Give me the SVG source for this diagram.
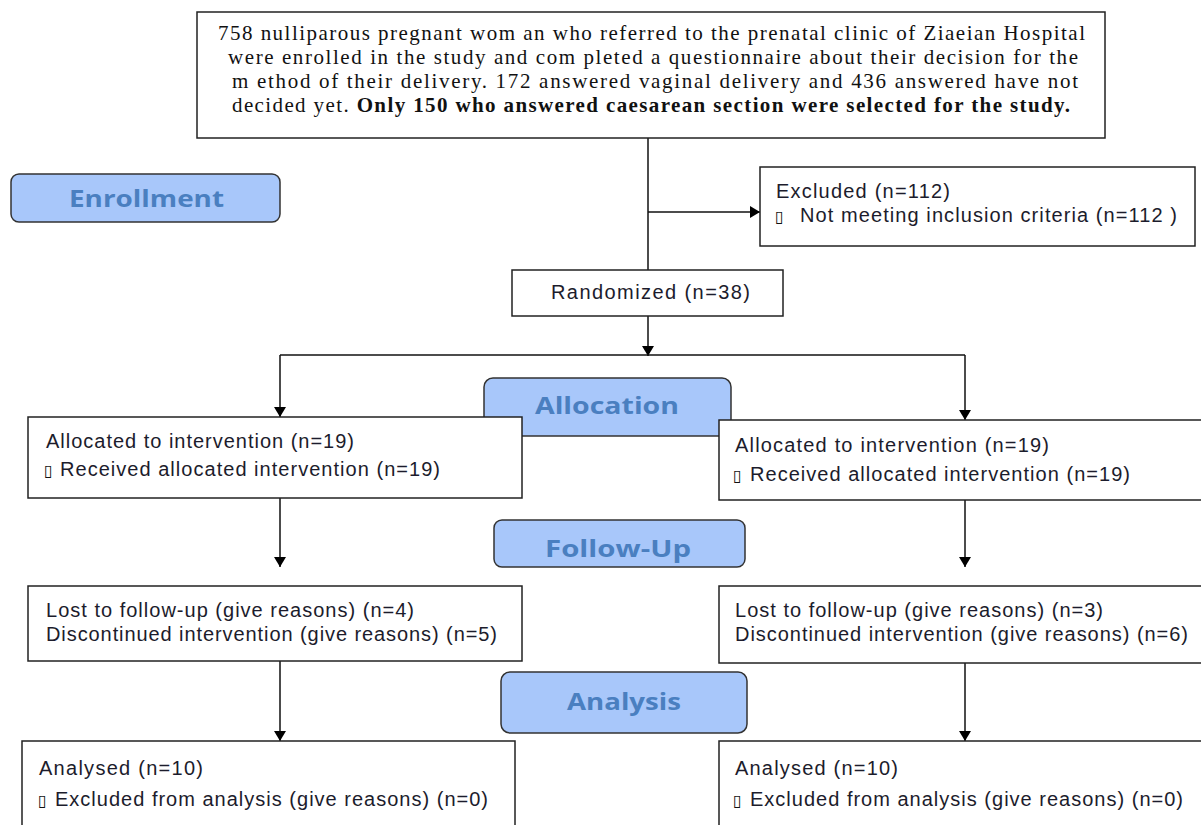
<svg xmlns="http://www.w3.org/2000/svg" width="1201" height="825" viewBox="0 0 1201 825">
<style>
.box{fill:#fff;stroke:#222;stroke-width:1.5}
.phase{fill:#a8c7fa;stroke:#333;stroke-width:1.5}
.ph{font-family:"Open Sans","DejaVu Sans",sans-serif;font-weight:bold;font-size:23px;fill:#4a7fc0}
.t{font-family:"Liberation Sans",Arial,sans-serif;font-size:20px;fill:#1c1c2c}
.s{font-family:"Liberation Serif","Times New Roman",serif;font-size:21px;fill:#111}
.b{font-family:"DejaVu Sans",sans-serif;font-size:16px;fill:#111}
.c{stroke:#111;stroke-width:1.5;fill:none}
</style>
<defs>
<marker id="ar" markerWidth="10" markerHeight="12" refX="10" refY="6" orient="auto" markerUnits="userSpaceOnUse">
<path d="M0,0 L10,6 L0,12 z" fill="#000"/>
</marker>
</defs>
<g id="connectors">
<path class="c" d="M648,138 V270"/>
<path class="c" d="M648,212 H760" marker-end="url(#ar)"/>
<path class="c" d="M648,316 V356" marker-end="url(#ar)"/>
<path class="c" d="M280,355 H965"/>
<path class="c" d="M280,355 V417" marker-end="url(#ar)"/>
<path class="c" d="M965,355 V420" marker-end="url(#ar)"/>
<path class="c" d="M280,498 V567" marker-end="url(#ar)"/>
<path class="c" d="M965,500 V567" marker-end="url(#ar)"/>
<path class="c" d="M280,661 V741" marker-end="url(#ar)"/>
<path class="c" d="M965,663 V741" marker-end="url(#ar)"/>
</g>
<g id="top">
<rect class="box" x="197" y="12" width="908" height="126"/>
<text class="s" x="218" y="40" textLength="867" lengthAdjust="spacing">758 nulliparous pregnant wom an who referred to the prenatal clinic of Ziaeian Hospital</text>
<text class="s" x="228" y="64" textLength="850" lengthAdjust="spacing">were enrolled in the study and com pleted a questionnaire about their decision for the</text>
<text class="s" x="232" y="88" textLength="846" lengthAdjust="spacing">m ethod of their delivery. 172 answered vaginal delivery and 436 answered have not</text>
<text class="s" x="232" y="112" textLength="838" lengthAdjust="spacing">decided yet. <tspan font-weight="bold">Only 150 who answered caesarean section were selected for the study.</tspan></text>
</g>
<g id="enrollment">
<rect class="phase" x="11" y="174" width="269" height="48" rx="8"/>
<text class="ph" x="69" y="207" textLength="155" lengthAdjust="spacingAndGlyphs">Enrollment</text>
</g>
<g id="excluded">
<rect class="box" x="760" y="167" width="435" height="79"/>
<text class="t" x="776" y="198" textLength="174" lengthAdjust="spacing">Excluded (n=112)</text>
<text class="b" x="775" y="222">▯</text>
<text class="t" x="800" y="222" textLength="377" lengthAdjust="spacing">Not meeting inclusion criteria (n=112 )</text>
</g>
<g id="randomized">
<rect class="box" x="512" y="270" width="271" height="46"/>
<text class="t" x="551" y="299" textLength="199" lengthAdjust="spacing">Randomized (n=38)</text>
</g>
<g id="allocation">
<rect class="phase" x="484" y="378" width="247" height="58" rx="9"/>
<text class="ph" x="535" y="414" textLength="144" lengthAdjust="spacingAndGlyphs">Allocation</text>
</g>
<g id="alloc-left">
<rect class="box" x="28" y="417" width="494" height="81"/>
<text class="t" x="46" y="448" textLength="308" lengthAdjust="spacing">Allocated to intervention (n=19)</text>
<text class="b" x="44" y="476">▯</text>
<text class="t" x="60" y="476" textLength="380" lengthAdjust="spacing">Received allocated intervention (n=19)</text>
</g>
<g id="alloc-right">
<rect class="box" x="719" y="420" width="490" height="80"/>
<text class="t" x="735" y="452" textLength="314" lengthAdjust="spacing">Allocated to intervention (n=19)</text>
<text class="b" x="733" y="481">▯</text>
<text class="t" x="750" y="481" textLength="380" lengthAdjust="spacing">Received allocated intervention (n=19)</text>
</g>
<g id="followup">
<rect class="phase" x="494" y="520" width="251" height="47" rx="8"/>
<text class="ph" x="545" y="557" textLength="146" lengthAdjust="spacingAndGlyphs">Follow-Up</text>
</g>
<g id="lost-left">
<rect class="box" x="28" y="586" width="494" height="75"/>
<text class="t" x="46" y="617" textLength="368" lengthAdjust="spacing">Lost to follow-up (give reasons) (n=4)</text>
<text class="t" x="46" y="641" textLength="451" lengthAdjust="spacing">Discontinued intervention (give reasons) (n=5)</text>
</g>
<g id="lost-right">
<rect class="box" x="719" y="586" width="490" height="77"/>
<text class="t" x="735" y="617" textLength="368" lengthAdjust="spacing">Lost to follow-up (give reasons) (n=3)</text>
<text class="t" x="735" y="641" textLength="453" lengthAdjust="spacing">Discontinued intervention (give reasons) (n=6)</text>
</g>
<g id="analysis">
<rect class="phase" x="501" y="672" width="246" height="61" rx="9"/>
<text class="ph" x="567" y="710" textLength="114" lengthAdjust="spacingAndGlyphs">Analysis</text>
</g>
<g id="analysed-left">
<rect class="box" x="22" y="741" width="493" height="100"/>
<text class="t" x="39" y="775" textLength="164" lengthAdjust="spacing">Analysed (n=10)</text>
<text class="b" x="38" y="806">▯</text>
<text class="t" x="55" y="806" textLength="433" lengthAdjust="spacing">Excluded from analysis (give reasons) (n=0)</text>
</g>
<g id="analysed-right">
<rect class="box" x="719" y="741" width="490" height="100"/>
<text class="t" x="735" y="775" textLength="163" lengthAdjust="spacing">Analysed (n=10)</text>
<text class="b" x="733" y="806">▯</text>
<text class="t" x="750" y="806" textLength="433" lengthAdjust="spacing">Excluded from analysis (give reasons) (n=0)</text>
</g>
</svg>
